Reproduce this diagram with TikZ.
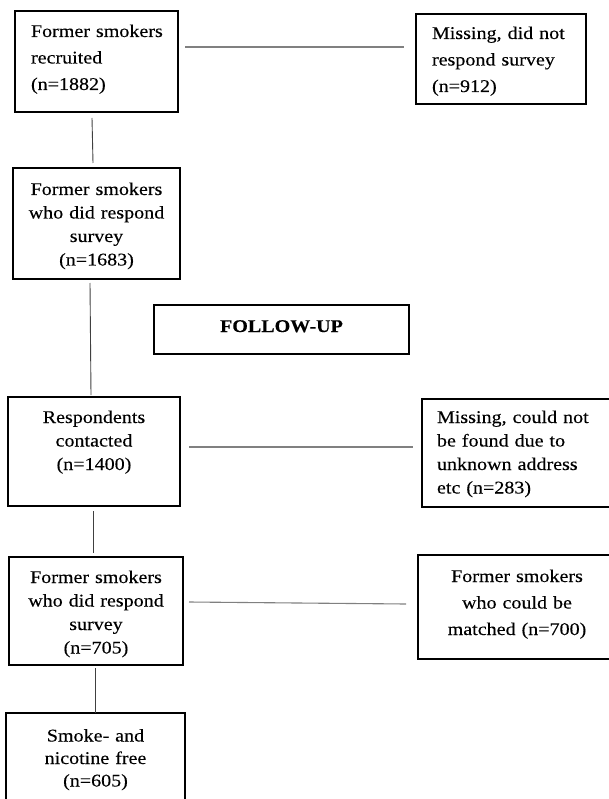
\documentclass[tikz,border=0pt]{standalone}
\usepackage{fontspec}
\setmainfont{Liberation Serif}[FakeStretch=1.12,FakeBold=0.25]
\usetikzlibrary{calc}
\begin{document}
\begin{tikzpicture}[x=1pt,y=-1pt,
  box/.style={draw=black,line width=1.6pt,inner sep=0pt,outer sep=0pt},
  txt/.style={inner sep=0pt,outer sep=0pt,font=\fontsize{17.9}{23.5}\selectfont,text width=180pt},
  txtw/.style={txt,font=\fontsize{17.9}{26.5}\selectfont},
  hconn/.style={draw=black!50,line width=1.1pt},
  vconn/.style={draw=black!75,line width=0.9pt}]
\useasboundingbox (0,0) rectangle (609,799);
\clip (0,0) rectangle (609,799);
% boxes
\node[box,minimum width=163pt,minimum height=101pt] (B1) at (96.5,61.5) {};
\node[box,minimum width=170pt,minimum height=90pt] (B912) at (501,59) {};
\node[box,minimum width=167pt,minimum height=111pt] (B3) at (96.5,223.5) {};
\node[box,minimum width=255pt,minimum height=49pt] (FU) at (281.5,329.5) {};
\node[box,minimum width=172pt,minimum height=109pt] (BR) at (94,451.5) {};
\node[box,minimum width=193pt,minimum height=108pt] (B283) at (518.5,453) {};
\node[box,minimum width=174pt,minimum height=108pt] (B705) at (96,611) {};
\node[box,minimum width=197pt,minimum height=104pt] (B700) at (516.5,607) {};
\node[box,minimum width=179pt,minimum height=92pt] (BS) at (95.5,759) {};
% texts
\node[txtw,anchor=base west,align=left] (T1) at (31,37) {Former smokers\\recruited\\(n=1882)};
\node[txtw,anchor=base west,align=left] (T912) at (432,39) {Missing, did not\\respond survey\\(n=912)};
\node[txt,anchor=base,align=center] (T3) at (96.5,195) {Former smokers\\who did respond\\survey\\(n=1683)};
\node[txt,anchor=base,align=center,font=\fontsize{17.9}{23.5}\selectfont\bfseries] (TFU) at (281.5,332) {FOLLOW-UP};
\node[txt,anchor=base,align=center] (TR) at (94,423) {Respondents\\contacted\\(n=1400)};
\node[txt,anchor=base west,align=left] (T283) at (437,423) {Missing, could not\\be found due to\\unknown address\\etc (n=283)};
\node[txt,anchor=base,align=center] (T705) at (96,583) {Former smokers\\who did respond\\survey\\(n=705)};
\node[txtw,anchor=base,align=center] (T700) at (517,582) {Former smokers\\who could be\\matched (n=700)};
\node[txt,anchor=base,align=center,font=\fontsize{17.9}{22.5}\selectfont] (TS) at (95.5,741.5) {Smoke- and\\nicotine free\\(n=605)};
% connectors
\draw[hconn] ($(B1.east |- 0,47)+(7,0)$) -- ($(B912.west |- 0,47)+(-12,0)$);
\draw[hconn] ($(BR.east |- 0,447)+(9,0)$) -- ($(B283.west |- 0,447)+(-9,0)$);
\draw[hconn] ($(B705.east |- 0,602)+(6,0)$) -- ($(B700.west |- 0,604)+(-12,0)$);
\draw[vconn] ($(B1.south)+(-4.5,6)$) -- ($(B3.north)+(-3.5,-5)$);
\draw[vconn] ($(B3.south)+(-6.5,4)$) -- ($(BR.north)+(-3,-2)$);
\draw[vconn] ($(BR.south)+(-1,5)$) -- ($(B705.north)+(-3,-4)$);
\draw[vconn] ($(B705.south)+(-1,3)$) -- ($(BS.north)+(-0.5,0)$);
\end{tikzpicture}
\end{document}
